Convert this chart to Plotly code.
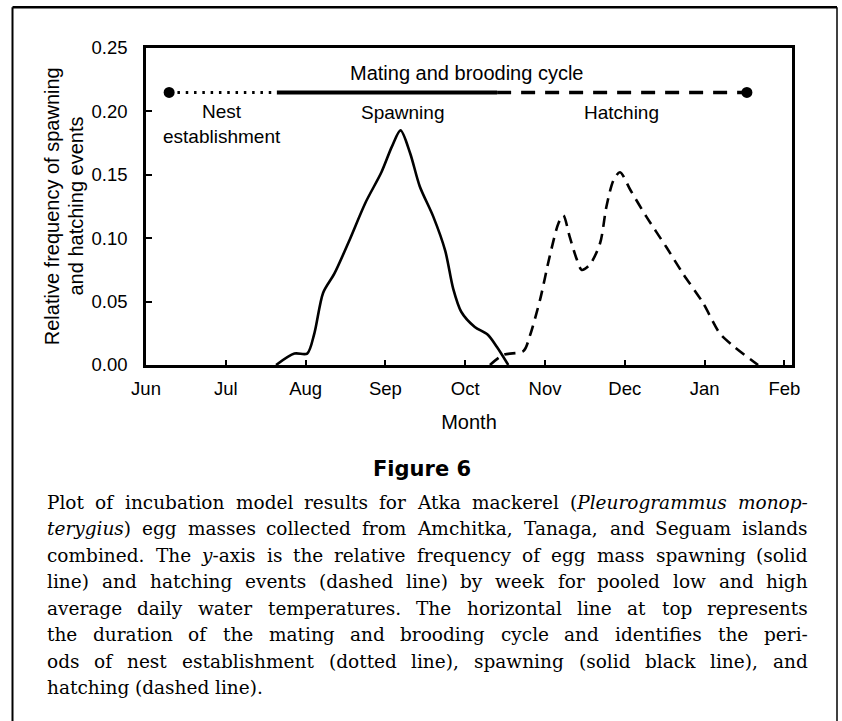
import re
import plotly.graph_objects as go

# ---------------- data ----------------
month_labels = ["Jun", "Jul", "Aug", "Sep", "Oct", "Nov", "Dec", "Jan", "Feb"]
month_pos = [0, 1, 2, 3, 4, 5, 6, 7, 8]

spawn_month = [1.63, 1.86, 2.02, 2.11, 2.22, 2.36, 2.54, 2.75, 2.95, 3.08, 3.19,
               3.31, 3.43, 3.60, 3.75, 3.85, 3.95, 4.12, 4.28, 4.40, 4.54]
spawn_freq = [0.000, 0.009, 0.009, 0.025, 0.057, 0.072, 0.097, 0.128, 0.152, 0.172, 0.185,
              0.167, 0.141, 0.117, 0.090, 0.060, 0.042, 0.030, 0.024, 0.014, 0.000]

hatch_month = [4.31, 4.48, 4.73, 4.81, 4.94, 5.06, 5.17, 5.23, 5.31, 5.40, 5.46, 5.56,
               5.69, 5.77, 5.86, 5.94, 6.07, 6.27, 6.52, 6.73, 6.98, 7.19, 7.36, 7.67]
hatch_freq = [0.000, 0.008, 0.011, 0.023, 0.052, 0.086, 0.112, 0.118, 0.101, 0.083, 0.075, 0.079,
              0.096, 0.125, 0.146, 0.152, 0.138, 0.117, 0.093, 0.072, 0.049, 0.025, 0.015, 0.000]

cycle_level = 0.215
nest_period = [0.29, 1.64]
spawn_period = [1.64, 4.40]
hatch_period = [4.40, 7.53]

y_ticks = [0, 0.05, 0.10, 0.15, 0.20, 0.25]
y_ticklabels = ["0.00", "0.05", "0.10", "0.15", "0.20", "0.25"]

y_title_lines = ["Relative frequency of spawning", "and hatching events"]
x_title = "Month"

caption_title = "Figure 6"
caption_lines = [
    "Plot of incubation model results for Atka mackerel (<i>Pleurogrammus</i> <i>monop-</i>",
    "<i>terygius</i>) egg masses collected from Amchitka, Tanaga, and Seguam islands",
    "combined. The <i>y</i>-axis is the relative frequency of egg mass spawning (solid",
    "line) and hatching events (dashed line) by week for pooled low and high",
    "average daily water temperatures. The horizontal line at top represents",
    "the duration of the mating and brooding cycle and identifies the peri-",
    "ods of nest establishment (dotted line), spawning (solid black line), and",
    "hatching (dashed line).",
]

# ---------------- layout geometry ----------------
W, H = 842, 721
L, R, T, B = 146, 50, 47.5, 355.5
pw = W - L - R
ph = H - T - B


def px2x(px):
    return (px - L) / pw


def py2y(py):
    return (H - B - py) / ph


fig = go.Figure()

# curves
fig.add_trace(go.Scatter(x=spawn_month, y=spawn_freq, mode="lines",
                         line=dict(color="black", width=2.6, shape="spline", smoothing=0.8),
                         showlegend=False, hoverinfo="skip"))
fig.add_trace(go.Scatter(x=hatch_month, y=hatch_freq, mode="lines",
                         line=dict(color="black", width=2.6, shape="spline", smoothing=0.8,
                                   dash="11px,7px"),
                         showlegend=False, hoverinfo="skip"))

# mating and brooding cycle line
fig.add_trace(go.Scatter(x=nest_period, y=[cycle_level] * 2, mode="lines",
                         line=dict(color="black", width=3, dash="2.5px,5.8px"),
                         showlegend=False, hoverinfo="skip"))
fig.add_trace(go.Scatter(x=spawn_period, y=[cycle_level] * 2, mode="lines",
                         line=dict(color="black", width=4),
                         showlegend=False, hoverinfo="skip"))
fig.add_trace(go.Scatter(x=hatch_period, y=[cycle_level] * 2, mode="lines",
                         line=dict(color="black", width=3.5, dash="14px,10px"),
                         showlegend=False, hoverinfo="skip"))
fig.add_trace(go.Scatter(x=[nest_period[0], hatch_period[1]], y=[cycle_level] * 2, mode="markers",
                         marker=dict(color="black", size=11),
                         showlegend=False, hoverinfo="skip"))

font_sans = "Liberation Sans, Arial, sans-serif"
annots = []
annots.append(dict(x=4.02, y=0.2305, xref="x", yref="y", text="Mating and brooding cycle",
                   showarrow=False, font=dict(size=20, family=font_sans, color="black")))
annots.append(dict(x=0.95, y=0.190, xref="x", yref="y", text="Nest<br>establishment",
                   showarrow=False, font=dict(size=19, family=font_sans, color="black")))
annots.append(dict(x=3.21, y=0.1995, xref="x", yref="y", text="Spawning",
                   showarrow=False, font=dict(size=19, family=font_sans, color="black")))
annots.append(dict(x=5.96, y=0.1995, xref="x", yref="y", text="Hatching",
                   showarrow=False, font=dict(size=19, family=font_sans, color="black")))

# y axis title (two lines)
for k, txt in enumerate(y_title_lines):
    annots.append(dict(x=px2x(51.7 + 23.3 * k), y=py2y(206.5), xref="paper", yref="paper", text=txt,
                       showarrow=False, textangle=-90, xanchor="center", yanchor="middle",
                       font=dict(size=20, family=font_sans, color="black")))

# caption title
annots.append(dict(x=px2x(422), y=py2y(470), xref="paper", yref="paper", text="<b>" + caption_title + "</b>",
                   showarrow=False, xanchor="center", yanchor="middle",
                   font=dict(size=21, family="DejaVu Sans", color="black")))

# caption body: justified by word placement
serif = "DejaVu Serif"
cap_size = 18.5
wtab = {' ': .318, 'a': .596, 'b': .640, 'c': .559, 'd': .640, 'e': .592, 'f': .371, 'g': .640,
        'h': .644, 'i': .320, 'j': .310, 'k': .611, 'l': .320, 'm': .950, 'n': .644, 'o': .602,
        'p': .640, 'q': .640, 'r': .479, 's': .514, 't': .403, 'u': .644, 'v': .564, 'w': .856,
        'x': .564, 'y': .564, 'z': .527, '(': .390, ')': .390, '.': .318, ',': .318, '-': .338,
        'A': .722, 'P': .692, 'T': .690, 'S': .688}


def est_width(word):
    plain = re.sub(r"<[^>]+>", "", word)
    return sum(wtab.get(c, 0.72) for c in plain) * cap_size


cap_left, cap_right = 47, 808
line_y0, line_dy = 503.3, 26.6
for i, line in enumerate(caption_lines):
    yy = py2y(line_y0 + i * line_dy)
    words = line.split(" ")
    widths = [est_width(w) for w in words]
    if i == len(caption_lines) - 1:
        gap = wtab[' '] * cap_size
    else:
        gap = max(3.0, (cap_right - cap_left - sum(widths)) / (len(words) - 1))
    xpos = cap_left
    for j, w in enumerate(words):
        annots.append(dict(x=px2x(xpos + widths[j] / 2), y=yy, xref="paper", yref="paper", text=w,
                           showarrow=False, xanchor="center", yanchor="middle",
                           font=dict(size=cap_size, family=serif, color="black")))
        xpos += widths[j] + gap

# outer frame (left, top, right)
frame = [
    dict(type="line", xref="paper", yref="paper", x0=px2x(12.5), x1=px2x(12.5), y0=py2y(6.5), y1=py2y(730),
         line=dict(color="black", width=2)),
    dict(type="line", xref="paper", yref="paper", x0=px2x(12.5), x1=px2x(837), y0=py2y(6.5), y1=py2y(6.5),
         line=dict(color="black", width=2.5)),
    dict(type="line", xref="paper", yref="paper", x0=px2x(837), x1=px2x(837), y0=py2y(6.5), y1=py2y(730),
         line=dict(color="black", width=1.5)),
]

fig.update_layout(
    width=W, height=H,
    margin=dict(l=L, r=R, t=T, b=B, pad=0),
    paper_bgcolor="white", plot_bgcolor="white",
    font=dict(family=font_sans, size=18.5, color="black"),
    annotations=annots,
    shapes=frame,
    xaxis=dict(range=[0, (W - R - L) / 79.8], tickmode="array", tickvals=month_pos, ticktext=month_labels,
               ticks="inside", ticklen=5, tickwidth=1.5, tickcolor="black",
               showline=True, linecolor="black", linewidth=2.5, mirror=True,
               showgrid=False, zeroline=False, ticklabelstandoff=5,
               title=dict(text=x_title, standoff=18, font=dict(size=20))),
    yaxis=dict(range=[0, 0.25], tickmode="array", tickvals=y_ticks, ticktext=y_ticklabels,
               ticks="inside", ticklen=6, tickwidth=1.5, tickcolor="black",
               showline=True, linecolor="black", linewidth=2.5, mirror=True,
               showgrid=False, zeroline=False, ticklabelstandoff=12),
)

fig.write_html("out.html", config={"displayModeBar": False},
               post_script="document.body.style.margin='0px';")
